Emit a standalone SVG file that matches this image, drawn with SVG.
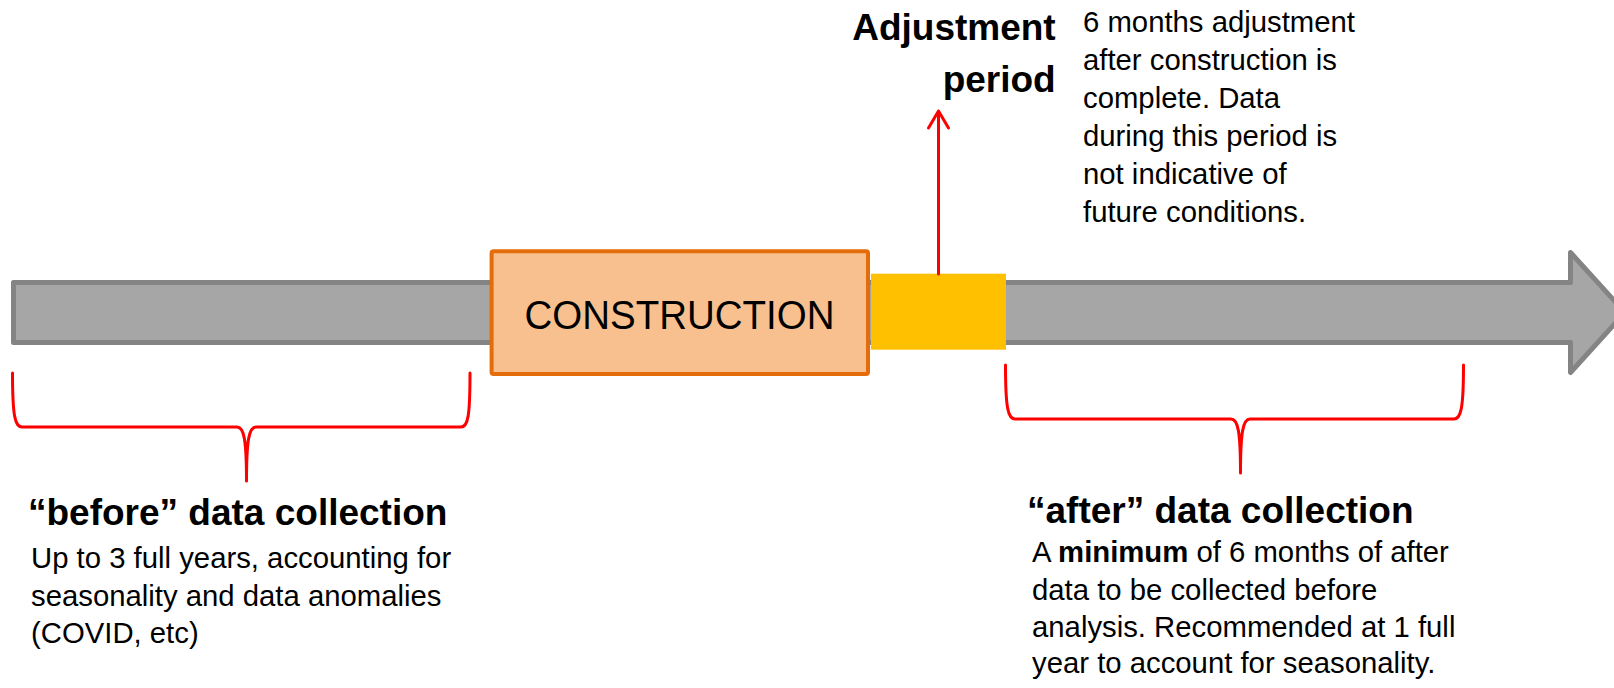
<svg xmlns="http://www.w3.org/2000/svg" width="1614" height="688" viewBox="0 0 1614 688">
<defs>
<style>
.txt{font-family:"Liberation Sans",Arial,sans-serif;fill:#000}
.b{font-weight:bold}
.h{font-size:37px;font-weight:bold}
.body{font-size:29.3px}
.red{fill:none;stroke:#ff0000;stroke-width:3;stroke-linecap:round;stroke-linejoin:round}
</style>
</defs>
<rect width="1614" height="688" fill="#ffffff"/>
<g id="timeline">
<polygon points="13.5,282.5 1570.5,282.5 1570.5,252.5 1625,312.5 1570.5,372.5 1570.5,342.5 13.5,342.5" fill="#a6a6a6" stroke="#848484" stroke-width="5" stroke-linejoin="round"/>
</g>
<g id="construction">
<rect x="491.6" y="251.3" width="376.4" height="122.7" rx="2" fill="#f9c08f" stroke="#e46c0a" stroke-width="4"/>
<text class="txt" x="679.5" y="329" font-size="40" text-anchor="middle" textLength="310" lengthAdjust="spacingAndGlyphs">CONSTRUCTION</text>
</g>
<g id="adjustment-block">
<rect x="871" y="273.7" width="135" height="76" fill="#ffc000"/>
</g>
<g id="connectors">
<path class="red" d="M938.5 274 L938.5 111 M928.5 128 L938.5 111 L948.5 128"/>
<path class="red" d="M12.5 373 C12.5 416 15 427 22 427 L237 427 C244 427 246.5 440 246.5 481 C246.5 440 249 427 256 427 L461 427 C468 427 470 416 470 373"/>
<path class="red" d="M1005.5 365 C1005.5 408 1008 419 1015 419 L1231 419 C1238 419 1240.5 432 1240.5 473 C1240.5 432 1243 419 1250 419 L1454 419 C1461 419 1463.5 408 1463.5 365"/>
</g>
<g id="adjustment-label">
<text class="txt h" x="1055.7" y="40" text-anchor="end">Adjustment</text>
<text class="txt h" x="1055.7" y="92" text-anchor="end">period</text>
</g>
<g id="adjustment-note">
<text class="txt body" x="1083">
<tspan x="1083" y="32">6 months adjustment</tspan>
<tspan x="1083" y="70">after construction is</tspan>
<tspan x="1083" y="108">complete. Data</tspan>
<tspan x="1083" y="146">during this period is</tspan>
<tspan x="1083" y="184">not indicative of</tspan>
<tspan x="1083" y="222">future conditions.</tspan>
</text>
</g>
<g id="before-label">
<text class="txt h" x="28" y="525">“before” data collection</text>
<text class="txt body" x="31">
<tspan x="31" y="568">Up to 3 full years, accounting for</tspan>
<tspan x="31" y="606">seasonality and data anomalies</tspan>
<tspan x="31" y="643">(COVID, etc)</tspan>
</text>
</g>
<g id="after-label">
<text class="txt h" x="1027" y="523">“after” data collection</text>
<text class="txt body" x="1032">
<tspan x="1032" y="562">A <tspan class="b">minimum</tspan> of 6 months of after</tspan>
<tspan x="1032" y="600">data to be collected before</tspan>
<tspan x="1032" y="637">analysis. Recommended at 1 full</tspan>
<tspan x="1032" y="673">year to account for seasonality.</tspan>
</text>
</g>
</svg>
